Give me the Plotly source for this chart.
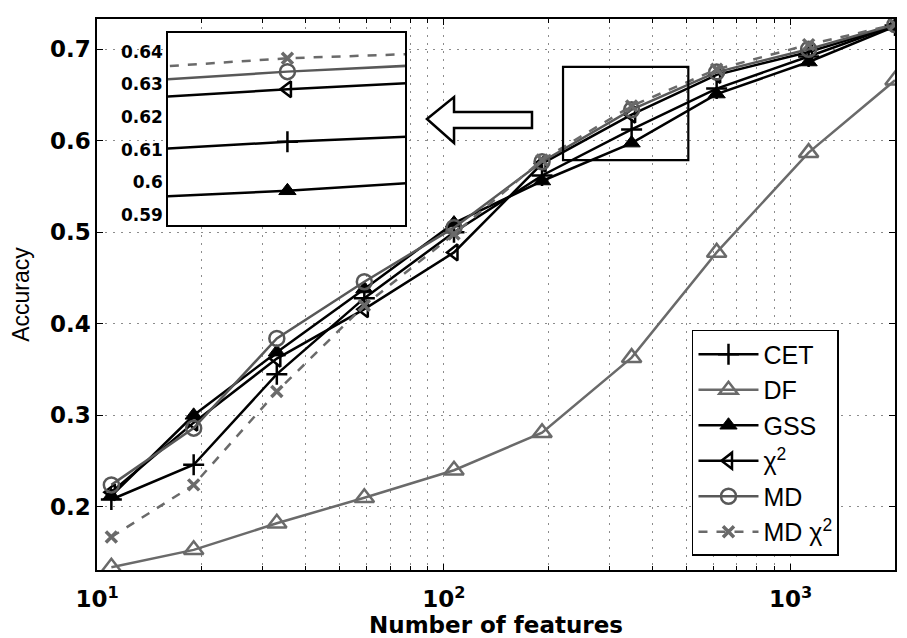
import plotly.graph_objects as go

# ---------------- data ----------------
n_features = [11, 19, 33, 59, 107, 192, 348, 612, 1127, 2000]

acc_cet    = [0.208, 0.246, 0.345, 0.428, 0.500, 0.562, 0.6124, 0.657, 0.692, 0.726]
acc_df     = [0.134, 0.153, 0.182, 0.210, 0.240, 0.281, 0.363, 0.478, 0.587, 0.666]
acc_gss    = [0.212, 0.300, 0.369, 0.438, 0.510, 0.556, 0.5974, 0.651, 0.686, 0.725]
acc_chi2   = [0.216, 0.292, 0.362, 0.416, 0.478, 0.575, 0.6285, 0.672, 0.697, 0.726]
acc_md     = [0.224, 0.286, 0.384, 0.446, 0.505, 0.577, 0.6339, 0.675, 0.700, 0.727]
acc_mdchi2 = [0.167, 0.224, 0.326, 0.420, 0.498, 0.579, 0.6380, 0.678, 0.705, 0.727]

x_tickvals = [10, 100, 1000]
x_ticktext = ["10<sup>1</sup>", "10<sup>2</sup>", "10<sup>3</sup>"]
x_minor_tickvals = [20, 30, 40, 50, 60, 70, 80, 90,
                    200, 300, 400, 500, 600, 700, 800, 900, 2000]
y_tickvals = [0.2, 0.3, 0.4, 0.5, 0.6, 0.7]
y_ticktext = ["0.2", "0.3", "0.4", "0.5", "0.6", "0.7"]
inset_tickvals = [0.59, 0.60, 0.61, 0.62, 0.63, 0.64]
inset_ticktext = ["0.59", "0.6", "0.61", "0.62", "0.63", "0.64"]

# ---------------- styles ----------------
BLACK = "#000000"
GRAY = "#6a6a6a"
GRAY_MD = "#585858"
FONT = "Liberation Sans"
BOLD_FONT = "DejaVu Sans"

series = [
    # name, values, color, dash, symbol, size, marker line width, rank
    ("CET", acc_cet, BLACK, "solid", "cross-thin", 15, 2.5, 1),
    ("DF", acc_df, GRAY, "solid", "triangle-up-open", 17, 2.5, 2),
    ("GSS", acc_gss, BLACK, "solid", "triangle-up", 15, 1, 3),
    ("χ<sup>2</sup>", acc_chi2, BLACK, "solid", "triangle-left-open", 14, 2.5, 4),
    ("MD", acc_md, GRAY_MD, "solid", "circle-open", 15, 2.5, 5),
    ("MD χ<sup>2</sup>", acc_mdchi2, GRAY, "dash", "x-thin", 11, 3.5, 6),
]

fig = go.Figure()

draw_order = [1, 0, 2, 3, 4, 5]
for axis_pair, show in (("main", True), ("inset", False)):
    for i in draw_order:
        name, vals, col, dash, sym, size, mlw, rank = series[i]
        fig.add_trace(go.Scatter(
            x=n_features, y=vals, name=name,
            mode="lines+markers",
            line=dict(color=col, width=2.5, dash=dash),
            marker=dict(symbol=sym, size=size, color=col,
                        line=dict(color=col, width=mlw)),
            showlegend=show, legendrank=rank, legendgroup=name,
            xaxis="x" if axis_pair == "main" else "x2",
            yaxis="y" if axis_pair == "main" else "y2",
            cliponaxis=True,
        ))

grid_kw = dict(gridcolor="#8c8c8c", griddash="2px,6px", gridwidth=1.2)
axis_common = dict(showline=True, linecolor=BLACK, linewidth=1.5, mirror="ticks",
                   ticks="inside", ticklen=6, tickcolor=BLACK, tickwidth=1.2,
                   zeroline=False, automargin=False)

# The page body adds an 8px margin, so the figure is 8px smaller and the
# left/top margins are 8px smaller to keep the plot area where the reference has it.
fig.update_layout(
    width=899, height=630,
    margin=dict(l=89, r=12, t=11, b=68),
    paper_bgcolor="white", plot_bgcolor="white",
    font=dict(family=FONT, color=BLACK),
    xaxis=dict(type="log", range=[1, 3.30103],
               tickmode="array", tickvals=x_tickvals, ticktext=x_ticktext,
               tickfont=dict(size=23, family=BOLD_FONT, weight="bold"),
               ticklabelstandoff=8,
               minor=dict(tickmode="array", tickvals=x_minor_tickvals,
                          ticks="inside", ticklen=4, tickcolor=BLACK,
                          showgrid=True, **grid_kw),
               title=dict(text="<b>Number of features</b>",
                          font=dict(size=23, family=BOLD_FONT), standoff=4),
               showgrid=True, **grid_kw, **axis_common),
    yaxis=dict(range=[0.131, 0.733],
               tickmode="array", tickvals=y_tickvals, ticktext=y_ticktext,
               tickfont=dict(size=23, family=BOLD_FONT, weight="bold"),
               title=dict(text="Accuracy", font=dict(size=23), standoff=14),
               showgrid=True, **grid_kw, **axis_common),
    xaxis2=dict(type="log", range=[2.531, 2.552], domain=[0.089, 0.386],
                anchor="y2", showticklabels=False, showgrid=False,
                showline=True, linecolor=BLACK, linewidth=1.5, mirror=True,
                ticks="", zeroline=False, automargin=False),
    yaxis2=dict(range=[0.5869, 0.6458], domain=[0.626, 0.975], anchor="x2",
                tickmode="array", tickvals=inset_tickvals, ticktext=inset_ticktext,
                tickfont=dict(size=17, family=BOLD_FONT, weight="bold"),
                showgrid=False, showline=True, linecolor=BLACK, linewidth=1.5,
                mirror=True, ticks="", zeroline=False, automargin=False),
    legend=dict(x=0.7456, y=0.4356, xanchor="left", yanchor="top",
                bgcolor="white", bordercolor=BLACK, borderwidth=1.5,
                font=dict(size=25, family=FONT, color=BLACK),
                tracegroupgap=0, itemwidth=60),
    showlegend=True,
)

# zoom rectangle on the main plot
fig.add_shape(type="rect", xref="paper", yref="paper",
              x0=0.584, x1=0.741, y0=0.744, y1=0.913,
              line=dict(color=BLACK, width=2.2), fillcolor="rgba(0,0,0,0)",
              layer="above")

# hollow arrow pointing to the inset
fig.add_shape(type="path", xref="paper", yref="paper",
              path=("M 0.4135 0.8185 L 0.4474 0.8584 L 0.4474 0.8312 "
                    "L 0.5451 0.8312 L 0.5451 0.8022 L 0.4474 0.8022 "
                    "L 0.4474 0.775 Z"),
              fillcolor="white", line=dict(color=BLACK, width=2.5),
              layer="above")

fig.write_html("out.html")
